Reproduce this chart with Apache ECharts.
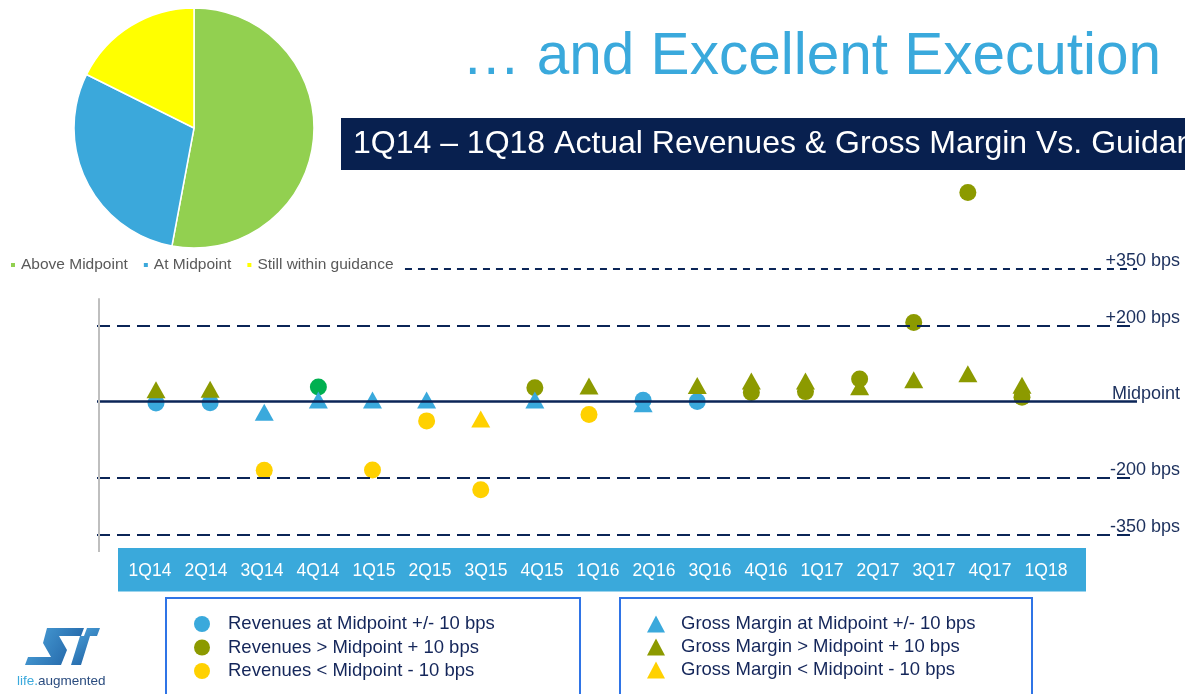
<!DOCTYPE html>
<html>
<head>
<meta charset="utf-8">
<script src="https://cdn.jsdelivr.net/npm/echarts@6/dist/echarts.min.js"></script>
<style>
  html, body { margin: 0; padding: 0; background: #fff; }
  #chart { width: 1185px; height: 694px; }
</style>
</head>
<body>
<div id="chart"></div>
<script>
// quarters on the band
const quarters = ['1Q14', '2Q14', '3Q14', '4Q14', '1Q15', '2Q15', '3Q15', '4Q15', '1Q16',
  '2Q16', '3Q16', '4Q16', '1Q17', '2Q17', '3Q17', '4Q17', '1Q18'];

// actual vs guidance midpoint, in bps
const revenueBps = [-4, -3, -181, 38, -180, -51, -232, 36, -34, 3, 0, 24, 26, 59, 208, 550, 11];
const marginBps = [31, 32, -28, 4, 4, 4, -46, 4, 41, -6, 42, 54, 54, 39, 57, 73, 43];

// how each quarter is classed on the slide
const revenueClass = ['at', 'at', 'below', 'above', 'below', 'below', 'below', 'above', 'below',
  'at', 'at', 'above', 'above', 'above', 'above', 'above', 'above'];
const marginClass = ['above', 'above', 'at', 'at', 'at', 'at', 'below', 'at', 'above',
  'at', 'above', 'above', 'above', 'above', 'above', 'above', 'above'];

// pie: outcomes out of 34
const pieNames = ['Above Midpoint', 'At Midpoint', 'Still within guidance'];
const pieValues = [18, 10, 6];

// guidance bands
const levelValues = [350, 200, 0, -200, -350];
const levelLabels = ['+350 bps', '+200 bps', 'Midpoint', '-200 bps', '-350 bps'];

const classKeys = ['at', 'above', 'below'];
const revenueNames = ['Revenues at Midpoint +/- 10 bps', 'Revenues > Midpoint + 10 bps', 'Revenues < Midpoint - 10 bps'];
const marginNames = ['Gross Margin at Midpoint +/- 10 bps', 'Gross Margin > Midpoint + 10 bps', 'Gross Margin < Midpoint - 10 bps'];

const FONT = '"Liberation Sans", Arial, sans-serif';
const COLORS = { at: '#3aa9dc', above: '#8c9a00', below: '#ffd100' };
const PIE_COLORS = ['#92d050', '#3ba8db', '#ffff00'];
const revenueHighlight = { '4Q14': '#00b050' }; // odd green dot on the slide
const NAVY = '#0b2557';

const X_MIN = -1.09, X_MAX = 18.125;

const chart = echarts.init(document.getElementById('chart'));

function points(values, classes, key, highlight) {
  const out = [];
  values.forEach((v, i) => {
    if (classes[i] !== key) return;
    const item = { value: [i, v] };
    if (highlight && highlight[quarters[i]]) {
      item.itemStyle = { color: highlight[quarters[i]] };
    }
    out.push(item);
  });
  return out;
}

// reference lines (+350 starts after the pie legend)
const refLines = levelValues.map((v, k) => {
  const solid = v === 0;
  return [
    {
      coord: [v === 350 ? 4.6 : X_MIN, v],
      lineStyle: {
        color: NAVY,
        width: solid ? 2.5 : 2,
        type: solid ? 'solid' : (v === 350 ? [7, 6] : [13, 7])
      },
      label: { formatter: levelLabels[k] }
    },
    { coord: [X_MAX, v] }
  ];
});
// grey vertical axis on the left
refLines.push([
  { coord: [-1.053, 272], lineStyle: { color: '#bfbfbf', width: 2, type: 'solid' }, label: { show: false } },
  { coord: [-1.053, -396] }
]);

const series = [
  {
    type: 'pie',
    center: [194, 128],
    radius: 120,
    startAngle: 90,
    clockwise: true,
    silent: true,
    label: { show: false },
    labelLine: { show: false },
    itemStyle: { borderColor: '#fff', borderWidth: 1.5 },
    data: pieNames.map((n, i) => ({ name: n, value: pieValues[i], itemStyle: { color: PIE_COLORS[i] } }))
  },
  {
    type: 'scatter',
    name: 'levels',
    xAxisIndex: 0,
    yAxisIndex: 0,
    data: [],
    silent: true,
    markLine: {
      symbol: 'none',
      silent: true,
      animation: false,
      label: {
        show: true,
        position: 'insideEndTop',
        distance: [-43, -2],
        color: '#1b2f5c',
        fontSize: 18,
        fontFamily: FONT
      },
      data: refLines
    }
  }
];

classKeys.forEach((key, k) => {
  series.push({
    type: 'scatter',
    name: revenueNames[k],
    xAxisIndex: 0,
    yAxisIndex: 0,
    symbol: 'circle',
    symbolSize: 17,
    clip: false,
    itemStyle: { color: COLORS[key], opacity: 1 },
    data: points(revenueBps, revenueClass, key, revenueHighlight)
  });
});
classKeys.forEach((key, k) => {
  series.push({
    type: 'scatter',
    name: marginNames[k],
    xAxisIndex: 0,
    yAxisIndex: 0,
    symbol: 'triangle',
    symbolSize: [19, 17],
    clip: false,
    itemStyle: { color: COLORS[key], opacity: 1 },
    data: points(marginBps, marginClass, key)
  });
});

const logoFill = new echarts.graphic.LinearGradient(0, 0, 1, 1, [
  { offset: 0, color: '#4ea6dd' },
  { offset: 1, color: '#1b5a9e' }
]);

const option = {
  animation: false,
  backgroundColor: '#fff',
  textStyle: { fontFamily: FONT },
  grid: [
    { left: 97, top: 173.5, width: 1040, height: 387.6, outerBoundsMode: 'none' },
    { left: 122, top: 548, width: 952, height: 43, outerBoundsMode: 'none' }
  ],
  xAxis: [
    { gridIndex: 0, type: 'value', min: X_MIN, max: X_MAX, show: false },
    {
      gridIndex: 1,
      type: 'category',
      data: quarters,
      z: 10,
      axisLine: { show: false },
      axisTick: { show: false },
      splitLine: { show: false },
      axisLabel: { inside: true, interval: 0, margin: 11, color: '#fff', fontSize: 17.5, fontFamily: FONT }
    }
  ],
  yAxis: [
    { gridIndex: 0, type: 'value', min: -420, max: 600, show: false },
    { gridIndex: 1, type: 'value', show: false }
  ],
  legend: [
    {
      data: pieNames,
      left: 9,
      top: 257,
      icon: 'rect',
      itemWidth: 6,
      itemHeight: 6,
      itemGap: 14,
      padding: 0,
      selectedMode: false,
      textStyle: { fontSize: 15.5, color: '#595959', fontFamily: FONT }
    },
    {
      data: revenueNames,
      orient: 'vertical',
      left: 194,
      top: 614,
      icon: 'circle',
      itemWidth: 16,
      itemHeight: 16,
      itemGap: 3.5,
      padding: 0,
      selectedMode: false,
      textStyle: { fontSize: 18.5, lineHeight: 20, color: '#14265a', fontFamily: FONT, padding: [0, 0, 0, 13] }
    },
    {
      data: marginNames,
      orient: 'vertical',
      left: 647,
      top: 614,
      icon: 'triangle',
      itemWidth: 18,
      itemHeight: 17,
      itemGap: 3,
      padding: 0,
      selectedMode: false,
      textStyle: { fontSize: 18.5, lineHeight: 20, color: '#14265a', fontFamily: FONT, padding: [0, 0, 0, 11] }
    }
  ],
  graphic: [
    {
      type: 'text', x: 462, y: 58,
      style: { text: '\u2026 and Excellent Execution', fill: '#3aa9dc', fontSize: 58.5, fontFamily: FONT, verticalAlign: 'middle' }
    },
    { type: 'rect', shape: { x: 341, y: 118, width: 860, height: 52 }, style: { fill: '#08204f' } },
    {
      type: 'text', x: 353, y: 144.5,
      style: { text: '1Q14 \u2013 1Q18 Actual Revenues & Gross Margin Vs. Guidance', fill: '#fff', fontSize: 32, fontFamily: FONT, verticalAlign: 'middle' }
    },
    { type: 'rect', z: -1, shape: { x: 118, y: 548, width: 968, height: 43.5 }, style: { fill: '#3aa9db' } },
    { type: 'rect', shape: { x: 166, y: 598, width: 414, height: 120 }, style: { fill: 'none', stroke: '#2f74e6', lineWidth: 2 } },
    { type: 'rect', shape: { x: 620, y: 598, width: 412, height: 120 }, style: { fill: 'none', stroke: '#2f74e6', lineWidth: 2 } },
    // ST logo, roughly
    {
      type: 'polygon',
      shape: { points: [[47, 628], [84, 628], [81, 636], [59, 636], [67, 650], [61, 665], [25, 665], [28, 657], [51, 657], [43, 643]] },
      style: { fill: logoFill }
    },
    {
      type: 'polygon',
      shape: { points: [[87, 628], [100, 628], [97, 636], [90, 636], [81, 665], [71, 665], [80, 636], [84, 636]] },
      style: { fill: logoFill }
    },
    {
      type: 'text', x: 17, y: 681,
      style: {
        text: '{a|life.}{b|augmented}',
        verticalAlign: 'middle',
        rich: {
          a: { fill: '#3aa9dc', fontSize: 13.5, fontFamily: FONT },
          b: { fill: '#2a4c7f', fontSize: 13.5, fontFamily: FONT }
        }
      }
    }
  ],
  series: series
};

chart.setOption(option);
</script>
</body>
</html>
